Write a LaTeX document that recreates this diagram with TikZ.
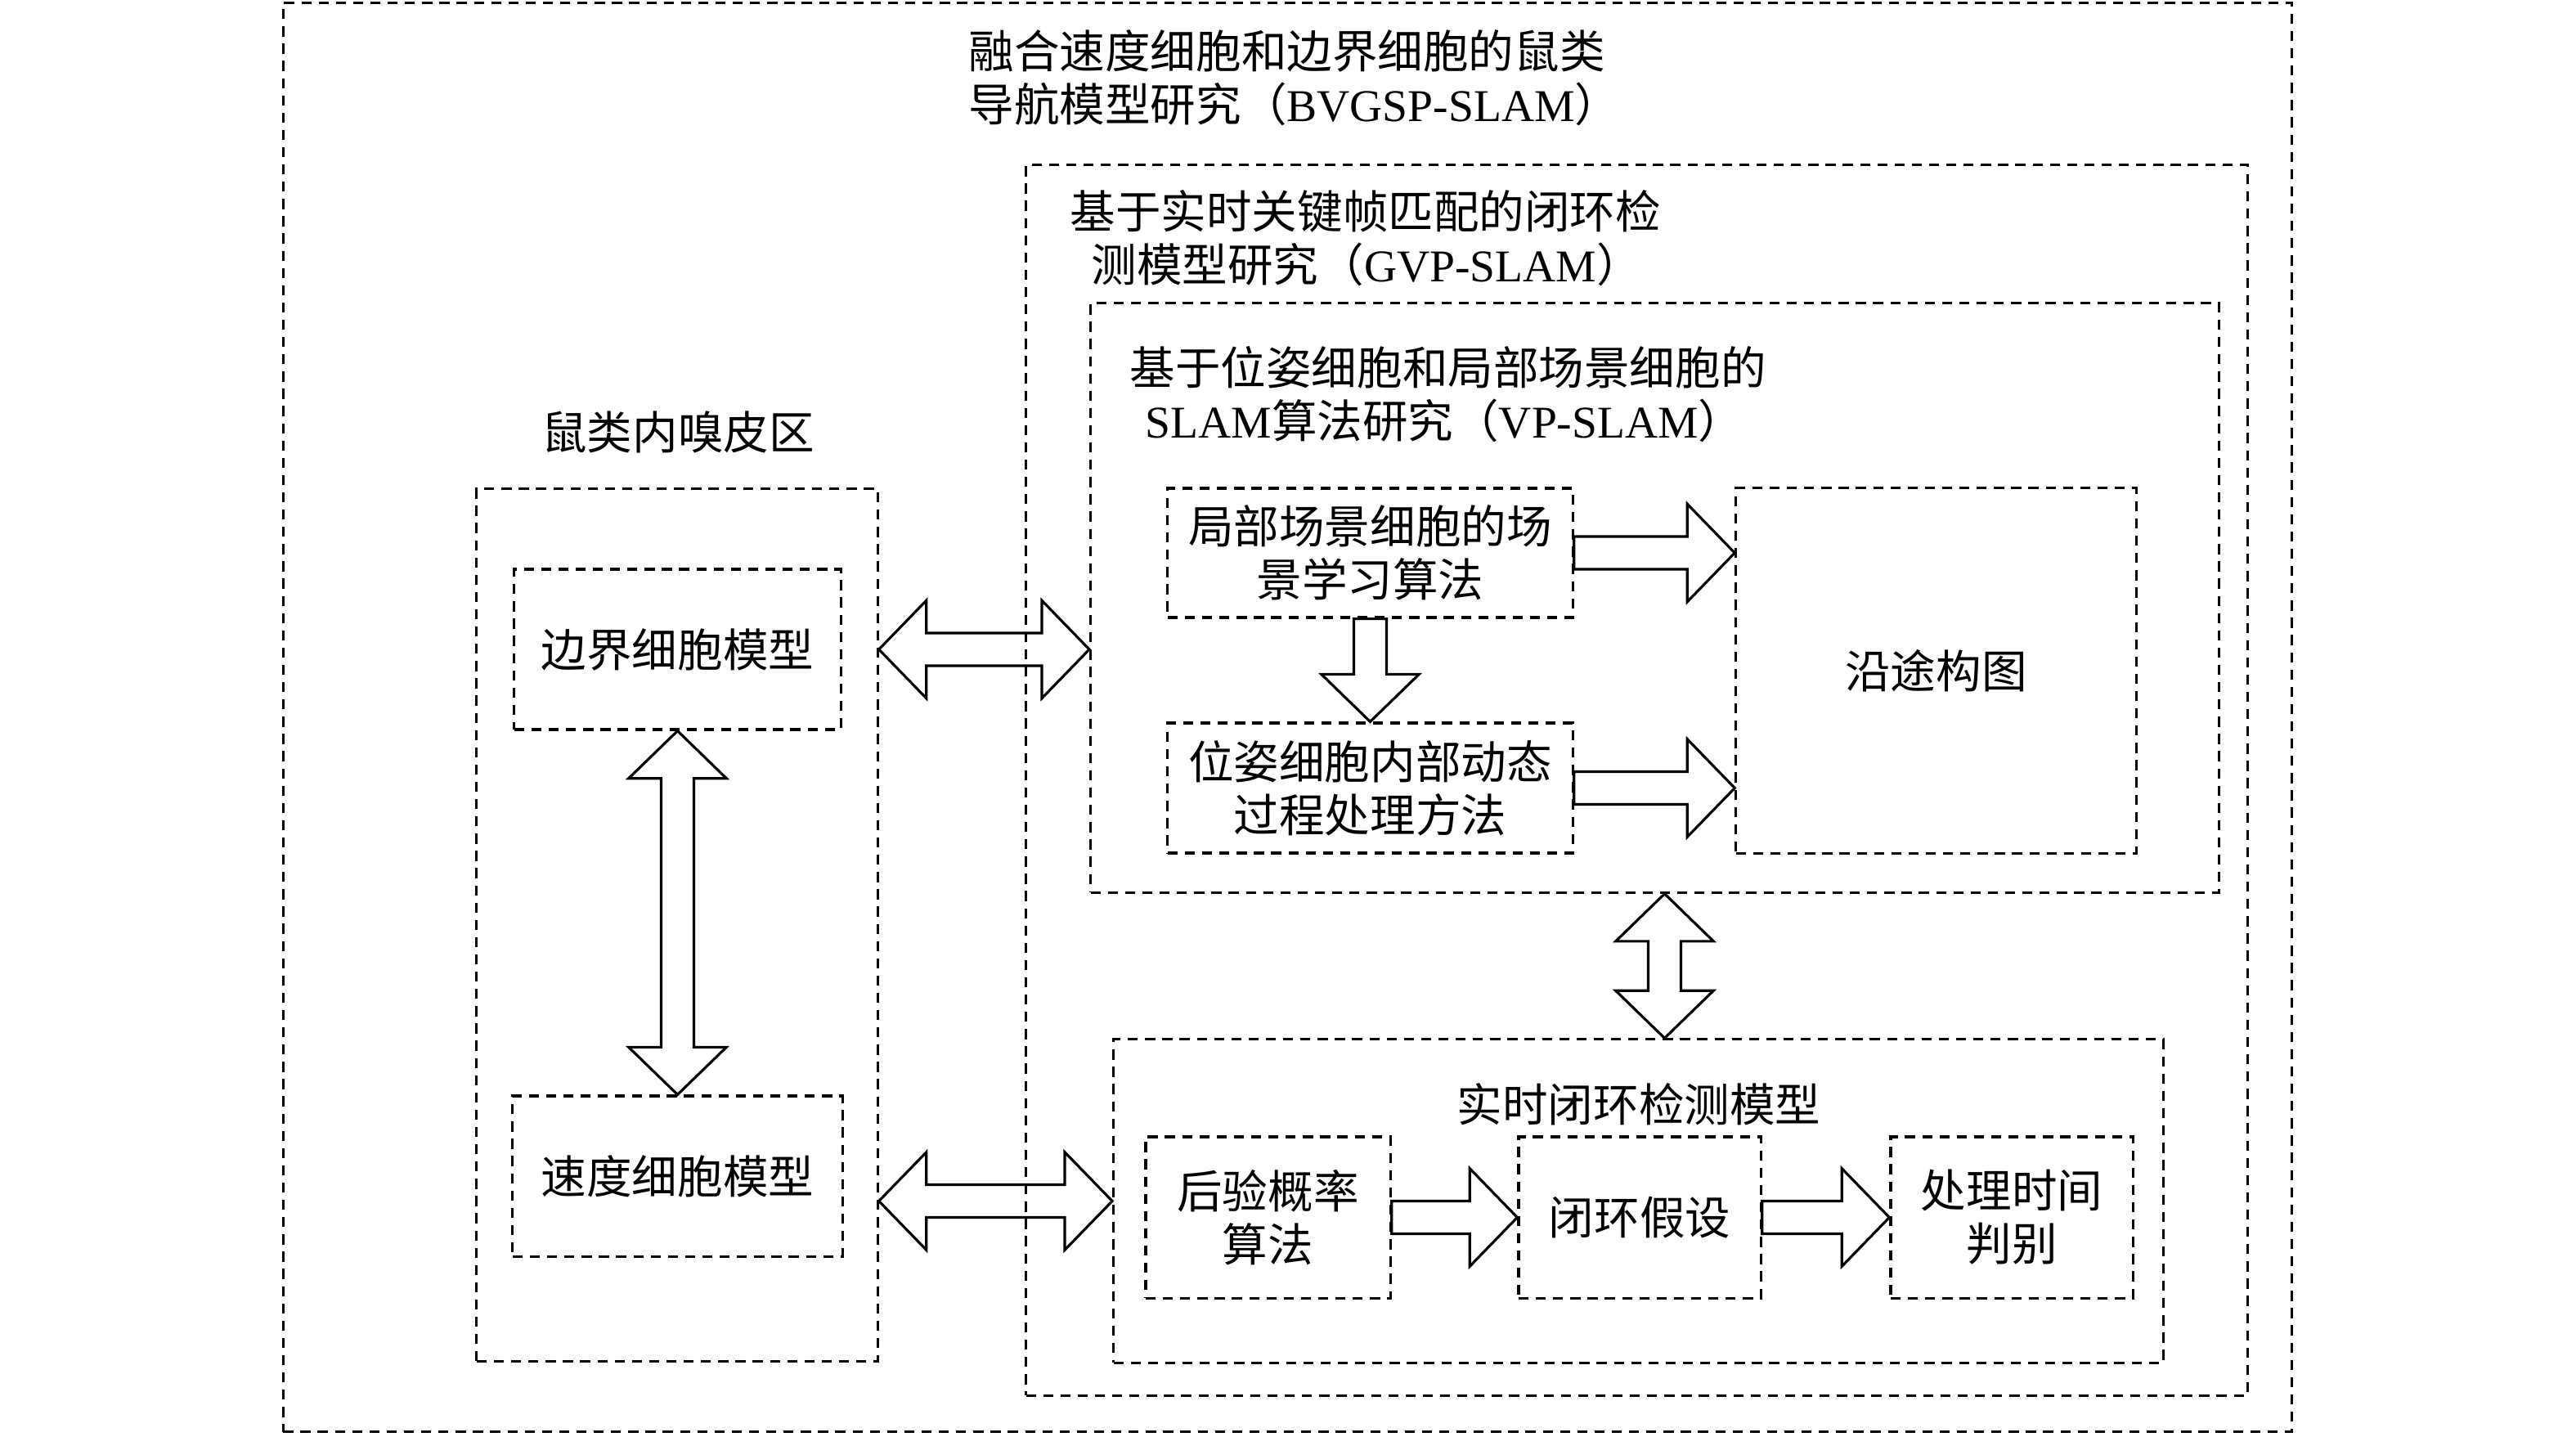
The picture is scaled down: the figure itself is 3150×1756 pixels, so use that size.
\documentclass[tikz,border=0pt]{standalone}
\usepackage{fontspec}
\setmainfont{Liberation Serif}
\newfontfamily\cjk{Noto Sans CJK SC}
\usetikzlibrary{calc}
\newcommand{\boxfont}{\cjk\fontsize{15.8pt}{18.5pt}\selectfont}
\newcommand{\shaftw}{5.7pt}
\newcommand{\headw}{17pt}
\newcommand{\headl}{16.5pt}
% block arrow from #1 to #2
\newcommand{\onearrow}[2]{%
  \path ($(#2)!\headl!(#1)$) coordinate (hb);
  \draw[fat] ($(#1)!\shaftw!90:(#2)$) -- ($(hb)!\shaftw!90:(#2)$) -- ($(hb)!\headw!90:(#2)$) -- (#2)
    -- ($(hb)!\headw!-90:(#2)$) -- ($(hb)!\shaftw!-90:(#2)$) -- ($(#1)!\shaftw!-90:(#2)$) -- cycle;}
% block arrow with two heads
\newcommand{\twoarrow}[2]{%
  \path ($(#2)!\headl!(#1)$) coordinate (hb) ($(#1)!\headl!(#2)$) coordinate (ht);
  \draw[fat] (#1) -- ($(ht)!\headw!90:(#2)$) -- ($(ht)!\shaftw!90:(#2)$) -- ($(hb)!\shaftw!90:(#2)$)
    -- ($(hb)!\headw!90:(#2)$) -- (#2) -- ($(hb)!\headw!-90:(#2)$) -- ($(hb)!\shaftw!-90:(#2)$)
    -- ($(ht)!\shaftw!-90:(#2)$) -- ($(ht)!\headw!-90:(#2)$) -- cycle;}

\begin{document}
\begin{tikzpicture}[x=0.01cm, y=-0.01cm,
  box/.style={draw, dash pattern=on 3.5pt off 2.5pt, line width=0.9pt, inner sep=0pt, align=center, font=\boxfont},
  fat/.style={draw, line width=0.9pt, line join=miter},
  title/.style={inner sep=0pt, align=left, font=\boxfont}]
\useasboundingbox (0,0) rectangle (3150,1756);

\node[box, minimum width=24.55cm, minimum height=17.46cm] (all) at (1574.5,877) {};
\node[title, anchor=west] (ttl) at (1184,95) {融合速度细胞和边界细胞的鼠类\\导航模型研究（{\rmfamily BVGSP-SLAM}）};

\node[box, minimum width=14.93cm, minimum height=15.04cm] (gvp) at (2001.5,954) {};
\node[title, anchor=west] (gvpttl) at (1308,291) {基于实时关键帧匹配的闭环检\\\hspace*{0.26cm}测模型研究（{\rmfamily GVP-SLAM}）};

\node[box, minimum width=13.79cm, minimum height=7.2cm] (vp) at (2023.5,731) {};
\node[title, anchor=west] (vpttl) at (1381,482) {基于位姿细胞和局部场景细胞的\\\hspace*{0.19cm}{\rmfamily SLAM}算法研究（{\rmfamily VP-SLAM}）};

\node[box, minimum width=4.95cm, minimum height=1.58cm] (A) at (1675.5,676) {局部场景细胞的场\\景学习算法};
\node[box, minimum width=4.95cm, minimum height=1.59cm] (B) at (1675.5,963.5) {位姿细胞内部动态\\过程处理方法};
\node[box, minimum width=4.89cm, minimum height=4.46cm] (C) at (2367.5,820) {沿途构图};

\node[box, minimum width=4.9cm, minimum height=10.66cm] (rat) at (828,1131) {};
\node[title] (ratttl) at (829,528) {鼠类内嗅皮区};
\node[box, minimum width=3.99cm, minimum height=1.96cm] (E) at (828.5,794) {边界细胞模型};
\node[box, minimum width=4.03cm, minimum height=1.96cm] (S) at (828.5,1438) {速度细胞模型};

\node[box, minimum width=12.83cm, minimum height=3.95cm] (loop) at (2003.5,1468.5) {};
\node[title] (loopttl) at (2004,1350) {实时闭环检测模型};
\node[box, minimum width=2.99cm, minimum height=1.97cm] (P1) at (1550.5,1488.5) {后验概率\\算法};
\node[box, minimum width=2.96cm, minimum height=1.97cm] (P2) at (2005,1488.5) {闭环假设};
\node[box, minimum width=2.96cm, minimum height=1.97cm] (P3) at (2460,1488.5) {处理时间\\判别};

\coordinate (ac) at (C.west |- A.east);
\coordinate (bc) at (C.west |- B.east);
\coordinate (re) at (rat.east |- E.east);
\coordinate (ve) at (vp.west |- E.east);
\coordinate (rs) at (rat.east |- loop.west);
\coordinate (vl) at ($(vp.south)+(12,0)$);
\coordinate (lv) at (vl |- loop.north);

\onearrow{A.east}{ac}
\onearrow{B.east}{bc}
\onearrow{A.south}{B.north}
\onearrow{P1.east}{P2.west}
\onearrow{P2.east}{P3.west}
\twoarrow{re}{ve}
\twoarrow{rs}{loop.west}
\twoarrow{E.south}{S.north}
\twoarrow{vl}{lv}
\end{tikzpicture}
\end{document}
